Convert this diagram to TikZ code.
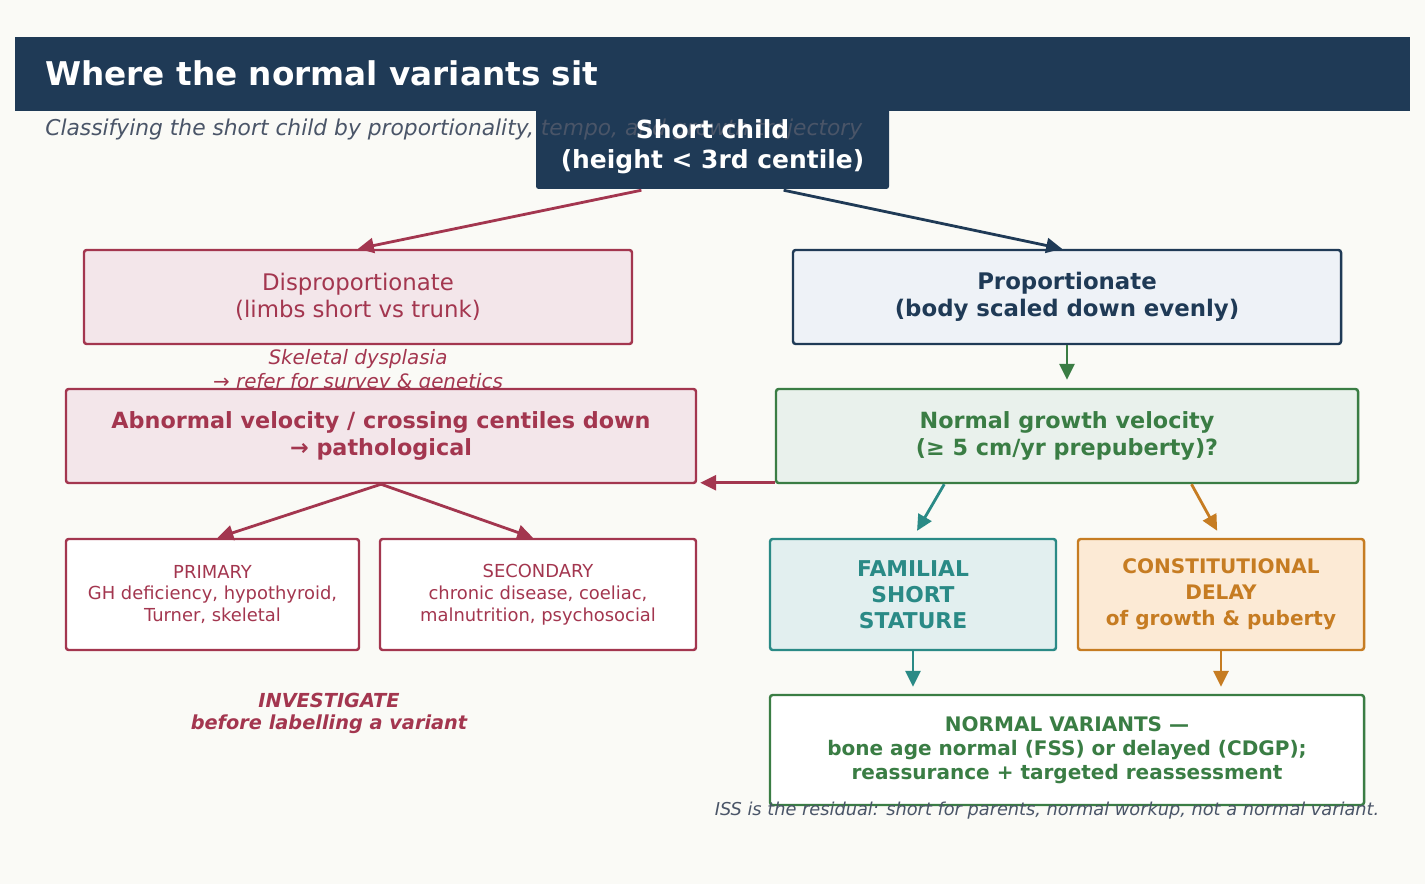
\documentclass[tikz,border=0pt]{standalone}
\usepackage{fontspec}
\setmainfont{DejaVu Sans}
\usetikzlibrary{arrows.meta,calc}

\definecolor{paper}{HTML}{FAFAF6}
\definecolor{navy}{HTML}{1F3A56}
\definecolor{slate}{HTML}{4A5568}
\definecolor{crim}{HTML}{A3364F}
\definecolor{crimfill}{HTML}{F3E6EA}
\definecolor{navyfill}{HTML}{EEF2F7}
\definecolor{grn}{HTML}{3A7D44}
\definecolor{grnfill}{HTML}{E9F1EC}
\definecolor{teal}{HTML}{2A8A86}
\definecolor{tealfill}{HTML}{E2EFEF}
\definecolor{ochre}{HTML}{C67C22}
\definecolor{ochrefill}{HTML}{FCEAD5}

\newcommand{\setfs}[2]{\fontsize{#1}{#2}\selectfont}

\tikzset{
  box/.style n args={2}{draw, line width=1.4pt, rounded corners=1.5pt, align=center, inner sep=0pt,
    minimum width=#1*0.02cm, minimum height=#2*0.02cm},
  link/.style={line width=1.6pt, -{Triangle[length=9pt,width=8.5pt]}},
}

\begin{document}
\begin{tikzpicture}[x=0.02cm,y=-0.02cm]
    \fill[paper] (0,0) rectangle (1425,884);
    \fill[navy] (15,37) rectangle (1410,111);
    \node[anchor=west, inner sep=0pt, text=white, font=\setfs{18.6}{22}\bfseries] (title) at (45,73) {Where the normal variants sit};

    \fill[navy, rounded corners=1.5pt] (536,105) rectangle (889,189);% root box under the subtitle
    \node[anchor=west, inner sep=0pt, text=slate, font=\setfs{12.4}{14}\itshape] (sub) at (45,129) {Classifying the short child by proportionality, tempo, and growth trajectory};
    \node[box={353}{84}, draw=none, text=white, font=\setfs{14.2}{17}\bfseries] (root) at (712.5,147) {Short child\\(height < 3rd centile)};

    \node[box={548}{94}, fill=crimfill, draw=crim, text=crim, font=\setfs{13}{15.3}] (dis) at (358,297) {Disproportionate\\(limbs short vs trunk)};
    \node[box={548}{94}, fill=navyfill, draw=navy, text=navy, font=\setfs{13}{15.3}\bfseries] (prop) at (1067,297) {Proportionate\\(body scaled down evenly)};

    \node[text=crim, align=center, font=\setfs{11.3}{13.6}\itshape] (skel) at (358,371) {Skeletal dysplasia\\→ refer for survey \& genetics};

    \node[box={630}{94}, fill=crimfill, draw=crim, text=crim, font=\setfs{12.7}{15.3}\bfseries] (abn) at (381,436) {Abnormal velocity / crossing centiles down\\→ pathological};
    \node[box={582}{94}, fill=grnfill, draw=grn, text=grn, font=\setfs{12.7}{15.3}\bfseries] (ngv) at (1067,436) {Normal growth velocity\\(≥ 5 cm/yr prepuberty)?};

    \node[box={293}{111}, fill=white, draw=crim, text=crim, font=\setfs{10.2}{12.5}] (prim) at (212.5,594.5) {PRIMARY\\GH deficiency, hypothyroid,\\Turner, skeletal};
    \node[box={316}{111}, fill=white, draw=crim, text=crim, font=\setfs{10.2}{12.5}] (sec) at (538,594.5) {SECONDARY\\chronic disease, coeliac,\\malnutrition, psychosocial};

    \node[text=crim, align=center, font=\setfs{11}{12.5}\bfseries\itshape] (inv) at (329,713) {INVESTIGATE\\before labelling a variant};

    \node[box={286}{111}, fill=tealfill, draw=teal, text=teal, font=\setfs{12.4}{14.7}\bfseries] (fss) at (913,594.5) {FAMILIAL\\SHORT\\STATURE};
    \node[box={286}{111}, fill=ochrefill, draw=ochre, text=ochre, font=\setfs{11.4}{14.7}\bfseries] (cdgp) at (1221,594.5) {CONSTITUTIONAL\\DELAY\\of growth \& puberty};

    \node[box={594}{110}, fill=white, draw=grn, text=grn, font=\setfs{11.4}{13.6}\bfseries] (nv) at (1067,750) {NORMAL VARIANTS —\\bone age normal (FSS) or delayed (CDGP);\\reassurance + targeted reassessment};
    \node[text=slate, font=\setfs{10.1}{11}\itshape] (foot) at (1047,811) {ISS is the residual: short for parents, normal workup, not a normal variant.};

    \draw[link, crim] ($(root.south west)!0.3!(root.south east)$) -- (dis.north);
    \draw[link, navy] ($(root.south west)!0.7!(root.south east)$) -- ([xshift=-0.1cm]prop.north);
    \draw[link, grn, shorten >=0.16cm] (prop.south) -- (ngv.north);
    \draw[link, crim] ([yshift=0.03cm]ngv.south west) -- ([xshift=0.06cm,yshift=0.03cm]abn.south east);
    \draw[link, crim] (abn.south) -- ([xshift=0.1cm]prim.north);
    \draw[link, crim] (abn.south) -- ([xshift=-0.1cm]sec.north);
    \draw[link, teal, shorten >=0.16cm] ($(ngv.south west)!0.29!(ngv.south east)$) -- (fss.north);
    \draw[link, ochre, shorten >=0.16cm] ($(ngv.south west)!0.713!(ngv.south east)$) -- (cdgp.north);
    \draw[link, teal, shorten >=0.14cm] (fss.south) -- (fss.south |- nv.north);
    \draw[link, ochre, shorten >=0.14cm] (cdgp.south) -- (cdgp.south |- nv.north);
\end{tikzpicture}
\end{document}
